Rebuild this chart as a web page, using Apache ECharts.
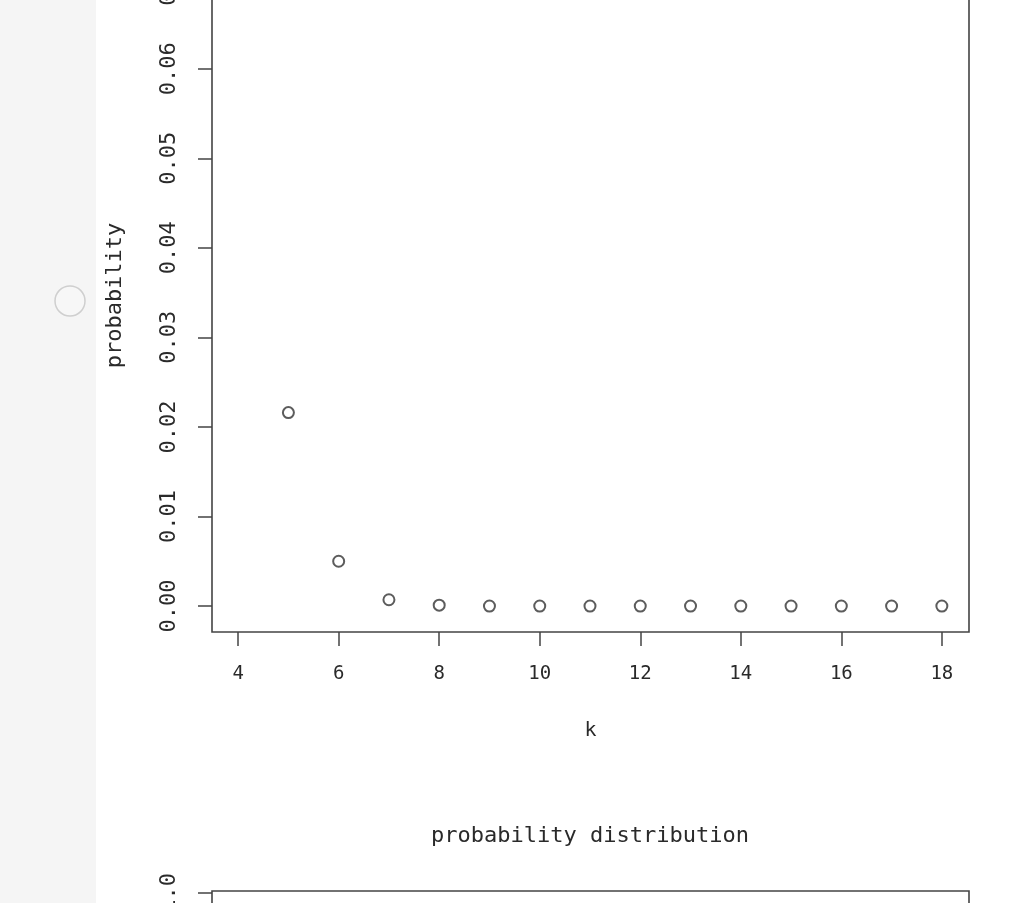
<!DOCTYPE html>
<html><head><meta charset="utf-8">
<script src="https://cdn.jsdelivr.net/npm/echarts@6/dist/echarts.min.js"></script>
<style>
html,body{margin:0;padding:0;width:1027px;height:903px;overflow:hidden;background:#fff;}
#strip{position:absolute;left:0;top:0;width:96px;height:903px;background:#f5f5f5;}
#chart{position:absolute;left:0;top:-80px;width:1027px;height:1400px;}
</style></head>
<body><div id="strip"></div><div id="chart"></div>
<script>
// data
const kValues = [4,5,6,7,8,9,10,11,12,13,14,15,16,17,18];
const probValues = [0.0727,0.0216,0.0050,0.0007,0.0001,0,0,0,0,0,0,0,0,0,0];
const xTicks = [4,6,8,10,12,14,16,18];
const yTicks = [0,0.01,0.02,0.03,0.04,0.05,0.06,0.07];
const y2Ticks = [0,0.2,0.4,0.6,0.8,1.0];
const titleText = 'probability distribution';
const xName = 'k';
const yName = 'probability';

const txt = '#2a2a2a';
const mono = 'DejaVu Sans Mono';
const chart = echarts.init(document.getElementById('chart'), null, {renderer:'canvas'});
const gridBase = {left:212, right:58, show:true, borderColor:'#444', borderWidth:1.6, backgroundColor:'#fff'};
const xAxisBase = {
  type:'value', min:3.48, max:18.54,
  axisLine:{show:false, onZero:false}, splitLine:{show:false},
  axisTick:{show:true, length:14, inside:false, customValues:xTicks, lineStyle:{color:'#444', width:1.5}},
  axisLabel:{customValues:xTicks, color:txt, fontFamily:mono, fontSize:19, margin:33}
};
chart.setOption({
  animation:false,
  title:{text:titleText, left:585, textAlign:'center', top:900,
    textStyle:{fontFamily:mono, fontSize:22, fontWeight:'normal', color:txt}},
  grid:[
    Object.assign({top:9, height:703}, gridBase),
    Object.assign({top:971, height:400}, gridBase)
  ],
  xAxis:[
    Object.assign({gridIndex:0, name:xName, nameLocation:'middle', nameGap:89,
      nameTextStyle:{fontFamily:mono, fontSize:20, color:txt}}, xAxisBase),
    Object.assign({gridIndex:1}, xAxisBase)
  ],
  yAxis:[
    {gridIndex:0, type:'value', min:-0.0029, max:0.0756,
     name:yName, nameLocation:'middle', nameGap:86, nameRotate:90,
     nameTextStyle:{fontFamily:mono, fontSize:22, color:txt, padding:[0,30,0,0]},
     axisLine:{show:false, onZero:false}, splitLine:{show:false},
     axisTick:{show:true, length:14, customValues:yTicks, lineStyle:{color:'#444', width:1.5}},
     axisLabel:{customValues:yTicks, rotate:90, color:txt, fontFamily:mono, fontSize:22, margin:32,
       formatter:v=>v.toFixed(2)}},
    {gridIndex:1, type:'value', min:-0.04, max:1.005,
     axisLine:{show:false, onZero:false}, splitLine:{show:false},
     axisTick:{show:true, length:14, customValues:y2Ticks, lineStyle:{color:'#444', width:1.5}},
     axisLabel:{customValues:y2Ticks, rotate:90, color:txt, fontFamily:mono, fontSize:22, margin:32,
       formatter:v=>v.toFixed(1)}}
  ],
  graphic:[
    {type:'circle', shape:{cx:70, cy:381, r:15}, style:{fill:'#f7f7f7', stroke:'#cfcfcf', lineWidth:1.5}, z:10}
  ],
  series:[
    {type:'scatter', xAxisIndex:0, yAxisIndex:0, symbol:'emptyCircle', symbolSize:11,
     itemStyle:{color:'#333', borderWidth:1.5},
     data:kValues.map((k,i)=>[k, probValues[i]])},
    {type:'scatter', xAxisIndex:1, yAxisIndex:1, data:[]}
  ]
});
</script></body></html>
